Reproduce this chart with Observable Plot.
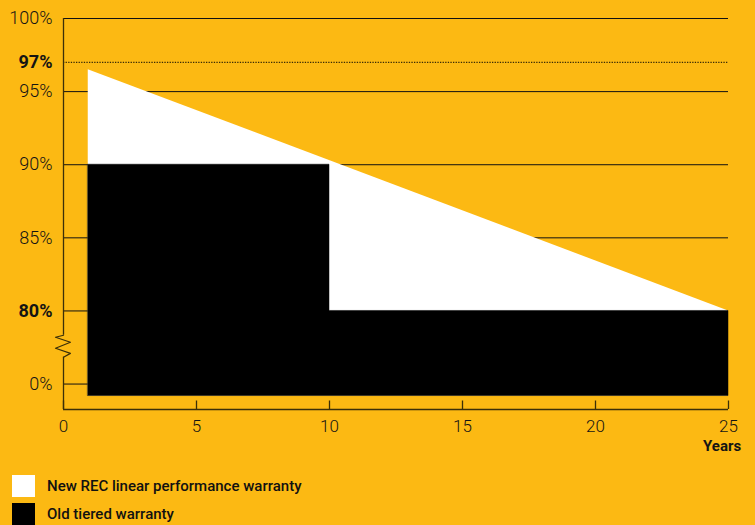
<!DOCTYPE html>
<html><head><meta charset="utf-8">
<script src="https://cdn.jsdelivr.net/npm/d3@7"></script>
<script src="https://cdn.jsdelivr.net/npm/@observablehq/plot@0.6"></script>
<style>
html,body{margin:0;padding:0;}
body{background:#FCB913;width:755px;height:525px;overflow:hidden;font-family:Roboto,"Noto Sans",sans-serif;}
#legend{padding-left:12px;padding-top:5px;}
.row{display:flex;align-items:center;height:22px;margin-bottom:5.7px;font-size:15px;font-weight:500;color:#111;}
.sw{width:23px;height:22px;margin-right:12px;flex:none;}
</style></head><body>
<div id="chart"></div>
<div id="legend"></div>
<script>
// ---- data ----
const xTicks = [0, 5, 10, 15, 20, 25];
// y values above the axis break are shown as-is; values below the break are drawn at 75 + value
const yTickValues = [100, 97, 95, 90, 85, 80, 0];
const yTickLabels = ["100%", "97%", "95%", "90%", "85%", "80%", "0%"];
const boldLabels = ["97%", "80%"];
const dottedValues = [97];
const newYears = [0.93, 25];
const newValues = [96.5, 80];
const oldYears = [0.93, 10, 10, 25];
const oldValues = [90, 90, 80, 80];
const baseValue = -0.82;      // bottom of the filled areas (just below 0%)
const axisMinValue = -1.74;   // bottom of the y axis
const breakLow = 1.84, breakHigh = 78.34; // gap in the y axis line
const breakYears = [0, -0.3, 0.26, -0.3, 0.26, 0];
const breakValues = [78.34, 78.2, 77.86, 77.45, 77.1, 76.84];
const seriesNames = ["New REC linear performance warranty", "Old tiered warranty"];
const seriesColors = ["#ffffff", "#000000"];

// ---- helpers ----
const disp = v => (v >= 80 ? v : 75 + v);
const yMin = disp(axisMinValue);
const labelOf = d => yTickLabels[yTickValues.findIndex(v => disp(v) === d)];
const solidGrid = yTickValues.filter(v => !dottedValues.includes(v)).map(disp);
const lightTicks = yTickValues.filter((v, i) => !boldLabels.includes(yTickLabels[i])).map(disp);
const boldTicks = yTickValues.filter((v, i) => boldLabels.includes(yTickLabels[i])).map(disp);

const newData = newYears.map((x, i) => ({x, y: disp(newValues[i])}));
const oldData = oldYears.map((x, i) => ({x, y: disp(oldValues[i])}));
const breakData = breakYears.map((x, i) => ({x, y: breakValues[i]}));
const axisSegs = [{y1: yMin, y2: 75 + breakLow}, {y1: breakHigh, y2: 100}];

const axisColor = "#3b2f08";
const H = 470, FRAME = 391;

const chart = Plot.plot({
  width: 755, height: H,
  marginLeft: 63, marginRight: 27, marginTop: 18, marginBottom: H - 18 - FRAME,
  style: {background: "transparent", fontFamily: "Roboto, 'Noto Sans', sans-serif", color: "#141414"},
  x: {domain: [0, 25]},
  y: {domain: [yMin, 100]},
  marks: [
    Plot.ruleY(solidGrid, {y: d => d, x1: () => 0, x2: () => 25, stroke: "#111", strokeWidth: 1}),
    Plot.ruleY(dottedValues.map(disp), {y: d => d, x1: () => 0, x2: () => 25, stroke: "#3a2c05", strokeWidth: 1.3, strokeDasharray: "1.3,1.3"}),
    Plot.areaY(newData, {x: "x", y1: () => disp(baseValue), y2: "y", fill: seriesColors[0]}),
    Plot.areaY(oldData, {x: "x", y1: () => disp(baseValue), y2: "y", fill: seriesColors[1], stroke: "#000", strokeWidth: 0.5}),
    Plot.ruleX(axisSegs, {x: () => 0, y1: "y1", y2: "y2", stroke: axisColor, strokeWidth: 1.3}),
    Plot.line(breakData, {x: "x", y: "y", stroke: axisColor, strokeWidth: 1.2}),
    Plot.ruleY([yMin], {y: d => d, x1: () => 0, x2: () => 25, stroke: axisColor, strokeWidth: 1.3}),
    Plot.ruleX(xTicks, {x: d => d, stroke: axisColor, strokeWidth: 1.3, insetTop: FRAME - 8.5}),
    Plot.axisX({ticks: xTicks, tickSize: 0, tickPadding: 10, fontSize: 17, fontWeight: 300, tickFormat: d => String(d), label: null}),
    Plot.text(["Years"], {frameAnchor: "bottom-right", dx: 12.7, dy: 41, textAnchor: "end", fontWeight: "bold", fontSize: 15, fill: "#141414"}),
    Plot.axisY({ticks: lightTicks, tickSize: 0, tickPadding: 11, fontSize: 18, fontWeight: 300, tickFormat: labelOf, label: null}),
    Plot.axisY({ticks: boldTicks, tickSize: 0, tickPadding: 11, fontSize: 18, fontWeight: "bold", tickFormat: labelOf, label: null})
  ]
});
document.getElementById("chart").appendChild(chart);

const legend = document.getElementById("legend");
seriesNames.forEach((name, i) => {
  const row = document.createElement("div");
  row.className = "row";
  const sw = document.createElement("div");
  sw.className = "sw";
  sw.style.background = seriesColors[i];
  const t = document.createElement("span");
  t.textContent = name;
  row.appendChild(sw); row.appendChild(t);
  legend.appendChild(row);
});
</script>
</body></html>
